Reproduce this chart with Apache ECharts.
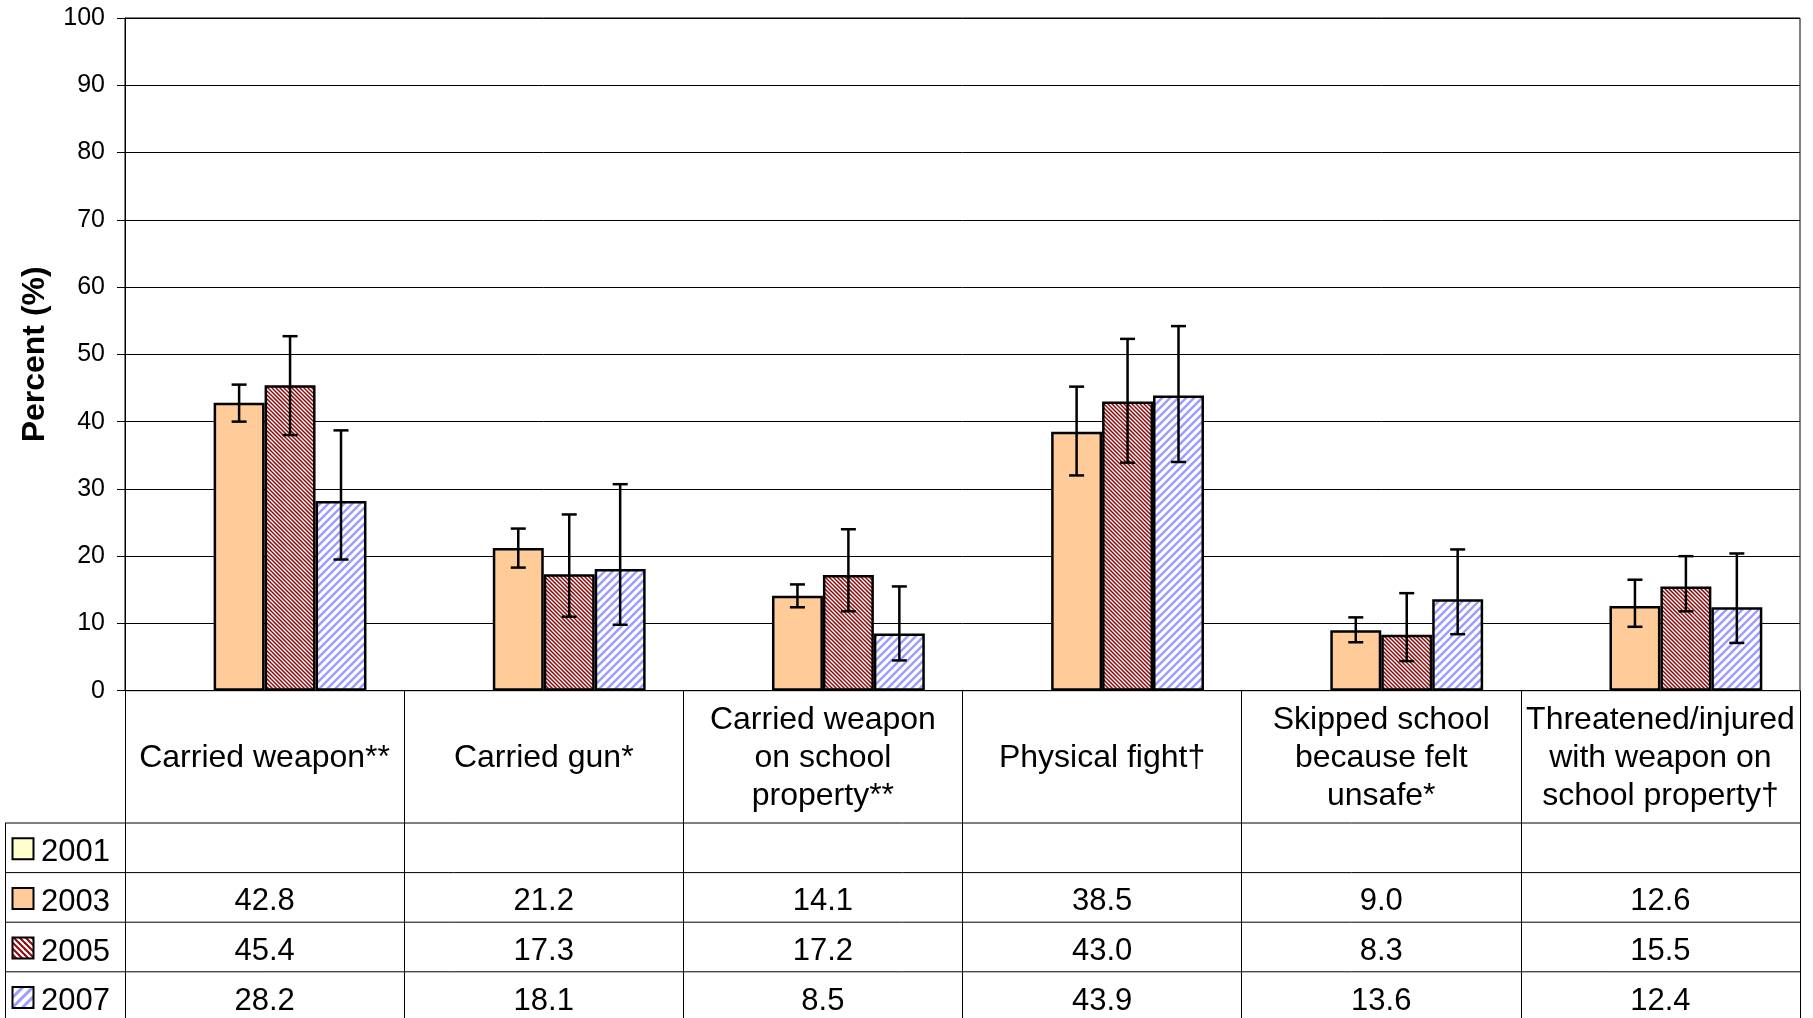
<!DOCTYPE html>
<html>
<head>
<meta charset="utf-8">
<script src="https://cdn.jsdelivr.net/npm/echarts@6/dist/echarts.min.js"></script>
<style>
html,body{margin:0;padding:0;background:#fff;}
#c{width:1813px;height:1018px;}
</style>
</head>
<body>
<div id="c"></div>
<script>
// ---- data ----
const categories = ['Carried weapon**', 'Carried gun*', 'Carried weapon\non school\nproperty**', 'Physical fight\u2020', 'Skipped school\nbecause felt\nunsafe*', 'Threatened/injured\nwith weapon on\nschool property\u2020'];
const years = ['2001', '2003', '2005', '2007'];
const v2001 = [null, null, null, null, null, null];
const v2003 = [42.8, 21.2, 14.1, 38.5, 9.0, 12.6];
const v2005 = [45.4, 17.3, 17.2, 43.0, 8.3, 15.5];
const v2007 = [28.2, 18.1, 8.5, 43.9, 13.6, 12.4];
const lo2003 = [40.0, 18.3, 12.4, 32.0, 7.2, 9.5];
const hi2003 = [45.5, 24.1, 15.8, 45.2, 10.9, 16.5];
const lo2005 = [38.0, 11.0, 11.8, 33.9, 4.4, 11.8];
const hi2005 = [52.7, 26.2, 24.0, 52.3, 14.5, 20.0];
const lo2007 = [19.5, 9.8, 4.5, 34.0, 8.4, 7.1];
const hi2007 = [38.7, 30.7, 15.5, 54.2, 21.0, 20.4];
const yTicks = [0, 10, 20, 30, 40, 50, 60, 70, 80, 90, 100];

// ---- patterns ----
function stripes(color, p, frac, dir) {
  const N = 4, T = p * N;
  const cv = document.createElement('canvas');
  cv.width = T; cv.height = T;
  const ctx = cv.getContext('2d');
  ctx.fillStyle = '#ffffff';
  ctx.fillRect(0, 0, T, T);
  ctx.strokeStyle = color;
  ctx.lineWidth = frac * p / Math.SQRT2;
  for (let k = -N - 2; k <= 2 * N + 2; k++) {
    const c = k * p;
    ctx.beginPath();
    if (dir === 'back') {
      ctx.moveTo(-p, c - p); ctx.lineTo(T + p, c + T + p);
    } else {
      ctx.moveTo(-p, c + p); ctx.lineTo(T + p, c - T - p);
    }
    ctx.stroke();
  }
  return cv;
}
const redPat = { image: stripes('#8c0a0a', 4, 0.55, 'back'), repeat: 'repeat' };
const bluePat = { image: stripes('#9c9cff', 8, 0.42, 'fwd'), repeat: 'repeat' };
const redSwatch = { image: stripes('#8c0a0a', 6, 0.5, 'back'), repeat: 'repeat' };
const blueSwatch = { image: stripes('#9c9cff', 10, 0.42, 'fwd'), repeat: 'repeat' };
const fills = ['#ffffcc', '#ffcc99', redPat, bluePat];
const swatchFills = ['#ffffcc', '#ffcc99', redSwatch, blueSwatch];

// ---- layout ----
const W = 1813, H = 1018;
const plotLeft = 125, plotRight = 1800, plotTop = 18, zeroY = 690.7;
const catRowBottom = 823, rowH = 49.6;
const colW = (plotRight - plotLeft) / categories.length;
const FONT = 'Liberation Sans, Arial, sans-serif';

const values = [v2001, v2003, v2005, v2007];
const lows = [null, lo2003, lo2005, lo2007];
const highs = [null, hi2003, hi2005, hi2007];

const series = [];
years.forEach((y, i) => {
  series.push({
    name: y, type: 'bar', data: values[i],
    barGap: '0%', barCategoryGap: '27%',
    itemStyle: { color: fills[i], borderColor: '#000', borderWidth: 2.5 },
    z: 2
  });
});
years.forEach((y, i) => {
  if (!lows[i]) return;
  const s = i;
  series.push({
    type: 'custom', name: y + ' CI',
    data: categories.map((c, j) => [j, lows[i][j], highs[i][j]]),
    encode: { x: 0, y: [1, 2] },
    z: 5,
    renderItem: function (params, api) {
      const j = api.value(0);
      const a = api.coord([j, api.value(1)]);
      const b = api.coord([j, api.value(2)]);
      const band = api.size([1, 0])[0];
      const bw = band * (1 - 0.27) / 4;
      const x = a[0] + (s - 1.5) * bw;
      const cap = 7.5;
      const st = { stroke: '#000', lineWidth: 2.5 };
      return {
        type: 'group',
        children: [
          { type: 'line', shape: { x1: x, y1: a[1], x2: x, y2: b[1] }, style: st },
          { type: 'line', shape: { x1: x - cap, y1: a[1], x2: x + cap, y2: a[1] }, style: st },
          { type: 'line', shape: { x1: x - cap, y1: b[1], x2: x + cap, y2: b[1] }, style: st }
        ]
      };
    }
  });
});

// ---- table graphics ----
const graphics = [];
const lineSt = { stroke: '#000', lineWidth: 1 };
for (let r = 0; r < 4; r++) {
  const y = catRowBottom + r * rowH;
  graphics.push({ type: 'line', shape: { x1: 5, y1: y, x2: plotRight, y2: y }, style: lineSt, silent: true });
}
graphics.push({ type: 'line', shape: { x1: 5.5, y1: catRowBottom, x2: 5.5, y2: H }, style: lineSt, silent: true });
years.forEach((y, i) => {
  const cy = catRowBottom + i * rowH + rowH / 2;
  graphics.push({ type: 'rect', shape: { x: 12.5, y: cy - 9.5, width: 21, height: 21 },
    style: { fill: swatchFills[i], stroke: '#000', lineWidth: 2 }, silent: true });
  graphics.push({ type: 'text', x: 41, y: cy + 5,
    style: { text: y, fill: '#000', font: '31px ' + FONT, textAlign: 'left', textVerticalAlign: 'middle' }, silent: true });
  values[i].forEach((v, j) => {
    if (v === null) return;
    graphics.push({ type: 'text', x: plotLeft + (j + 0.5) * colW, y: cy + 4.5,
      style: { text: v.toFixed(1), fill: '#000', font: '31px ' + FONT, textAlign: 'center', textVerticalAlign: 'middle' }, silent: true });
  });
});

const chart = echarts.init(document.getElementById('c'), null, { renderer: 'canvas' });
chart.setOption({
  animation: false,
  backgroundColor: '#fff',
  textStyle: { fontFamily: FONT },
  grid: { left: plotLeft, right: W - plotRight, top: plotTop, bottom: H - zeroY,
    show: true, borderColor: '#000', borderWidth: 1, backgroundColor: 'transparent' },
  xAxis: {
    type: 'category', data: categories,
    axisLine: { show: true, lineStyle: { color: '#000', width: 1 } },
    axisTick: { show: true, interval: 0, length: 340, lineStyle: { color: '#000', width: 1 } },
    axisLabel: { interval: 0, fontSize: 32, lineHeight: 38, color: '#000', fontFamily: FONT,
      verticalAlign: 'middle', margin: 67 },
    splitLine: { show: false }
  },
  yAxis: {
    type: 'value', min: yTicks[0], max: yTicks[yTicks.length - 1], interval: 10,
    name: 'Percent (%)', nameLocation: 'middle', nameRotate: 90, nameGap: 74,
    nameTextStyle: { fontSize: 32, fontWeight: 'bold', color: '#000', fontFamily: FONT },
    axisLine: { show: true, lineStyle: { color: '#000', width: 1 } },
    axisTick: { show: true, length: 8, lineStyle: { color: '#000', width: 1 } },
    axisLabel: { fontSize: 25, color: '#000', margin: 20, fontFamily: FONT },
    splitLine: { show: true, lineStyle: { color: '#000', width: 1 } }
  },
  series: series,
  graphic: graphics
});
</script>
</body>
</html>
